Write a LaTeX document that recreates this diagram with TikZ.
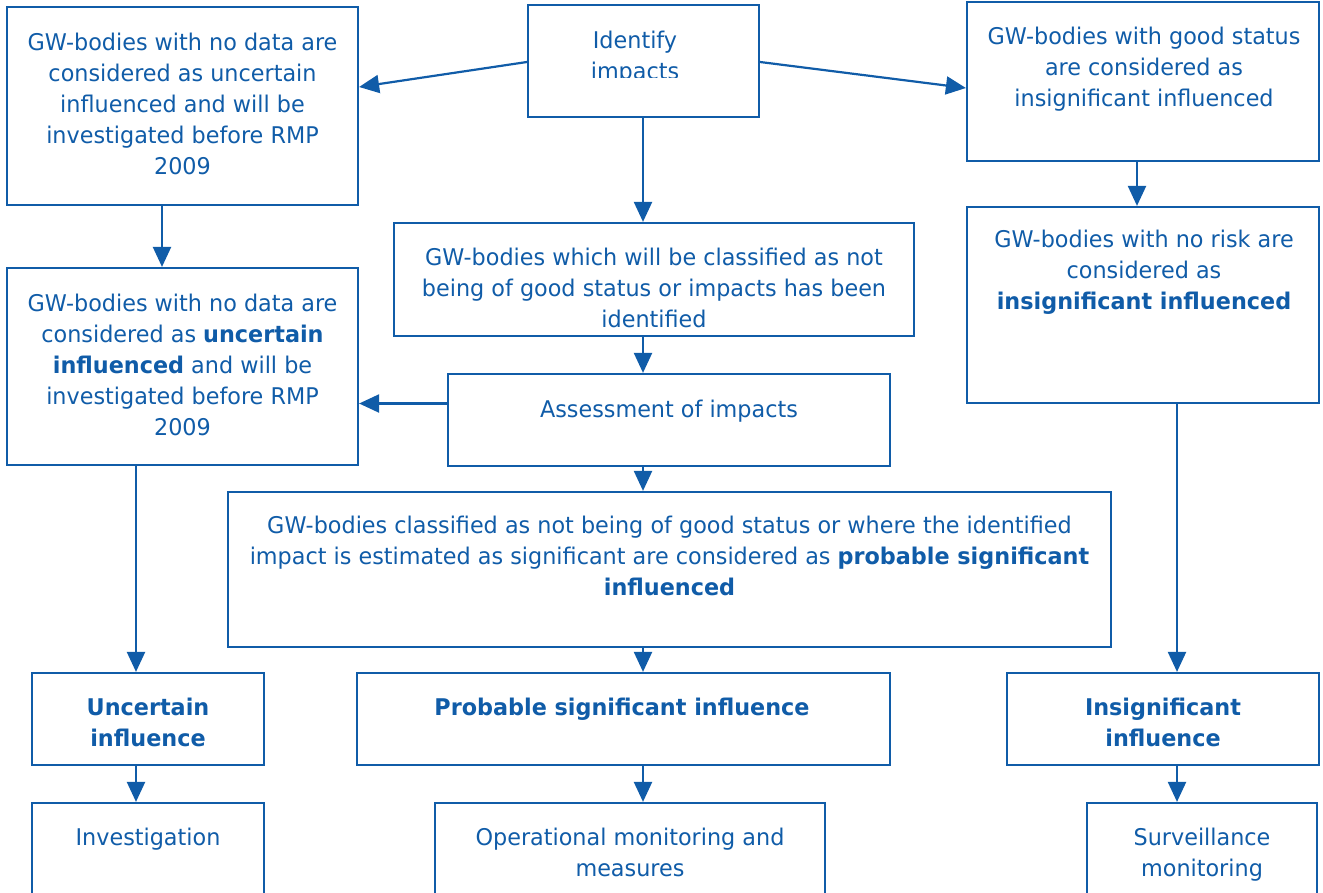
\documentclass[tikz,border=0pt]{standalone}
\usepackage{fontspec}
\setmainfont{DejaVu Sans}[FakeStretch=0.97]
\usetikzlibrary{arrows.meta,calc}
\definecolor{eeablue}{RGB}{16,92,168}
\tikzset{
  box/.style={draw=eeablue, line width=2.2pt, rectangle, inner sep=0pt, fill=none},
  txt/.style={text=eeablue, font=\fontsize{23}{31}\selectfont, align=center, inner sep=0pt, anchor=north},
  arr/.style={draw=eeablue, line width=2.2pt, -{Triangle[length=20pt,width=18pt]}}
}
\begin{document}
\begin{tikzpicture}[x=1pt,y=-1pt]
\useasboundingbox (0,0) rectangle (1323,892);
\clip (0,0) rectangle (1323,892);
% column coordinates
\coordinate (cmid) at (643,0);
\coordinate (cleftA) at (162,0);
\coordinate (cleftB) at (136,0);
\coordinate (crightA) at (1137,0);
\coordinate (crightB) at (1177,0);
% boxes
\node[box, minimum width=351pt, minimum height=198pt] (b1) at (182.5,106) {};
\node[box, minimum width=231pt, minimum height=112pt] (id) at (643.5,61) {};
\node[box, minimum width=352pt, minimum height=159pt] (rt) at (1143,81.5) {};
\node[box, minimum width=351pt, minimum height=197pt] (b2) at (182.5,366.5) {};
\node[box, minimum width=520pt, minimum height=113pt] (mid) at (654,279.5) {};
\node[box, minimum width=352pt, minimum height=196pt] (rs) at (1143,305) {};
\node[box, minimum width=442pt, minimum height=92pt] (as) at (669,420) {};
\node[box, minimum width=883pt, minimum height=155pt] (big) at (669.5,569.5) {};
\node[box, minimum width=232pt, minimum height=92pt] (un) at (148,719) {};
\node[box, minimum width=533pt, minimum height=92pt] (pr) at (623.5,719) {};
\node[box, minimum width=312pt, minimum height=92pt] (ins) at (1163,719) {};
\node[box, minimum width=232pt, minimum height=97pt] (inv) at (148,851.5) {};
\node[box, minimum width=390pt, minimum height=97pt] (op) at (630,851.5) {};
\node[box, minimum width=230pt, minimum height=97pt] (sv) at (1202,851.5) {};
% texts
\node[txt] (t-b1) at (182.5,33.3) {GW-bodies with no data are\\considered as uncertain\\influenced and will be\\investigated before RMP\\2009};
\begin{scope}
\clip (528,5) rectangle (759,77.5);
\node[txt] (t-id) at (635,31.3) {Identify\\impacts};
\end{scope}
\node[txt] (t-rt) at (1144,27.3) {GW-bodies with good status\\are considered as\\insignificant influenced};
\node[txt] (t-b2) at (182.5,294.3) {GW-bodies with no data are\\considered as \textbf{uncertain}\\\textbf{influenced} and will be\\investigated before RMP\\2009};
\node[txt] (t-mid) at (654,248.3) {GW-bodies which will be classified as not\\being of good status or impacts has been\\identified};
\node[txt] (t-rs) at (1144,230.3) {GW-bodies with no risk are\\considered as\\\textbf{insignificant influenced}};
\node[txt] (t-as) at (669,400.3) {Assessment of impacts};
\node[txt] (t-big) at (669.5,516.3) {GW-bodies classified as not being of good status or where the identified\\impact is estimated as significant are considered as \textbf{probable significant}\\\textbf{influenced}};
\node[txt, font=\fontsize{23}{31}\selectfont\bfseries] (t-un) at (148,698.3) {Uncertain\\influence};
\node[txt, font=\fontsize{23}{31}\selectfont\bfseries] (t-pr) at (622,698.3) {Probable significant influence};
\node[txt, font=\fontsize{23}{31}\selectfont\bfseries] (t-ins) at (1163,698.3) {Insignificant\\influence};
\node[txt] (t-inv) at (148,828.3) {Investigation};
\node[txt] (t-op) at (630,828.3) {Operational monitoring and\\measures};
\node[txt] (t-sv) at (1202,828.3) {Surveillance\\monitoring};
% connectors
\draw[arr] ([yshift=-1pt]id.west) -- ([yshift=19pt]b1.east);
\draw[arr] ([yshift=-1pt]id.east) -- ([yshift=-6.5pt]rt.west);
\draw[arr] (id.south -| cmid) -- (mid.north -| cmid);
\draw[arr] (b1.south -| cleftA) -- (b2.north -| cleftA);
\draw[arr] (rt.south -| crightA) -- (rs.north -| crightA);
\draw[arr] (mid.south -| cmid) -- (as.north -| cmid);
\draw[arr] ([yshift=16.5pt]as.west) -- ([yshift=-37pt]b2.east);
\draw[arr] (as.south -| cmid) -- (big.north -| cmid);
\draw[arr] (b2.south -| cleftB) -- (un.north -| cleftB);
\draw[arr] (rs.south -| crightB) -- (ins.north -| crightB);
\draw[arr] (big.south -| cmid) -- (pr.north -| cmid);
\draw[arr] (un.south -| cleftB) -- (inv.north -| cleftB);
\draw[arr] (pr.south -| cmid) -- (op.north -| cmid);
\draw[arr] (ins.south -| crightB) -- (sv.north -| crightB);
\end{tikzpicture}
\end{document}
